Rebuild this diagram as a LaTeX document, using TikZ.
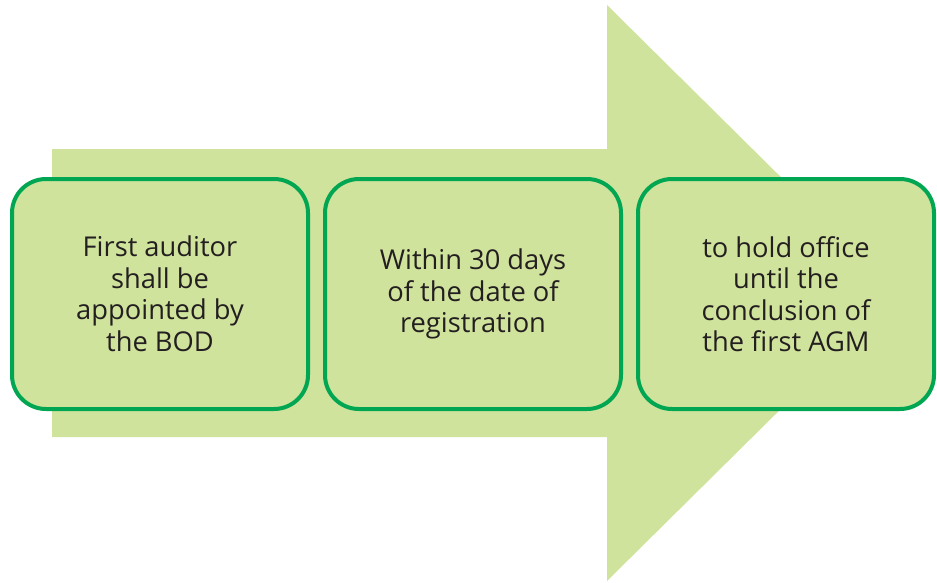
\documentclass[tikz,border=0pt]{standalone}
\usepackage{fontspec}
\setmainfont{Open Sans}
\usetikzlibrary{positioning}

\definecolor{arrowgreen}{HTML}{D0E39C}
\definecolor{boxgreen}{HTML}{00A651}
\definecolor{textdark}{HTML}{231F20}

\begin{document}
\begin{tikzpicture}[
    x=1pt, y=-1pt, node distance=13pt,
    stage/.style={rectangle, rounded corners=34pt, draw=boxgreen, line width=4pt,
        fill=arrowgreen, text=textdark, align=center,
        minimum width=296pt, minimum height=230pt,
        font=\fontsize{27.3}{31.5}\selectfont}
]
    \useasboundingbox (0,0) rectangle (937,582);

    % big block arrow behind the stages
    \fill[arrowgreen] (52,149) -- (607,149) -- (607,5) -- (898,293)
        -- (607,581) -- (607,437) -- (52,437) -- cycle;

    \node[stage] (first) at (160,294) {First auditor\\shall be\\appointed by\\the BOD};
    \node[stage, right=of first]  (days)  {Within 30 days\\of the date of\\registration};
    \node[stage, right=of days]   (agm)   {to hold office\\until the\\conclusion of\\the first AGM};
\end{tikzpicture}
\end{document}
